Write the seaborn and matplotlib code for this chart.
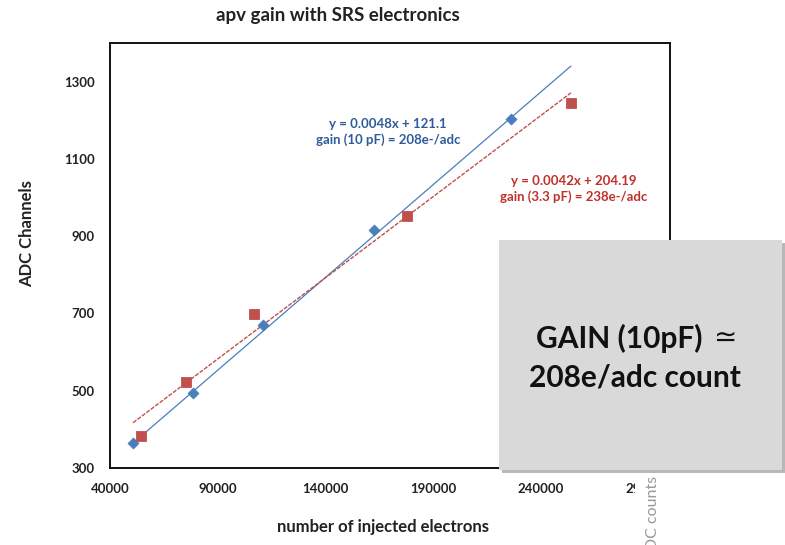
import numpy as np
import pandas as pd
import seaborn as sns
import matplotlib.pyplot as plt
from matplotlib.patches import Rectangle

x_10pf = [50700, 78500, 111000, 162600, 226200]
adc_10pf = [365, 494, 670, 916, 1203]
x_33pf = [54400, 75300, 106900, 177900, 254000]
adc_33pf = [383, 523, 698, 952, 1245]

# trendlines as written on the chart
fit_10pf = [0.0048, 121.1]
fit_33pf = [0.0042, 204.19]

x_ticks = [40000, 90000, 140000, 190000, 240000, 290000]
y_ticks = [300, 500, 700, 900, 1100, 1300]

blue = '#4a7ebb'
red = '#c0504d'

sns.set_style('white')
plt.rcParams['font.family'] = ['Lato', 'DejaVu Sans']

fig = plt.figure(figsize=(7.85, 5.45), dpi=100)
ax = fig.add_axes([110 / 785, 77 / 545, 560 / 785, 425 / 545])

df10 = pd.DataFrame({'x': x_10pf, 'y': adc_10pf})
df33 = pd.DataFrame({'x': x_33pf, 'y': adc_33pf})

# both trend lines span the full x range of the data
xs = np.array([min(x_10pf + x_33pf), max(x_10pf + x_33pf)])
sns.lineplot(x=xs, y=np.polyval(fit_10pf, xs), color=blue, lw=0.9, ax=ax)
sns.lineplot(x=xs, y=np.polyval(fit_33pf, xs), color=red, lw=1.0,
             linestyle=(0, (3, 1)), ax=ax)

sns.scatterplot(data=df10, x='x', y='y', marker='D', s=32, color=blue,
                edgecolor=blue, ax=ax, zorder=3)
sns.scatterplot(data=df33, x='x', y='y', marker='s', s=55, color=red,
                edgecolor=red, ax=ax, zorder=3)

ax.set_xlim(40000, 300000)
ax.set_ylim(300, 1400)
ax.set_xticks(x_ticks)
ax.set_yticks(y_ticks)
ax.tick_params(length=0, labelsize=9.5, pad=11)
for lab in ax.get_xticklabels() + ax.get_yticklabels():
    lab.set_fontweight('bold')
    lab.set_color('#222222')
ax.set_xlabel('')
ax.set_ylabel('')
for sp in ax.spines.values():
    sp.set_visible(True)
    sp.set_color('#111111')
    sp.set_linewidth(1.4)

ax.text(169000, 1170, 'y = 0.0048x + 121.1\ngain (10 pF) = 208e-/adc',
        color='#2e5c9a', fontsize=9.5, fontweight='bold', ha='center',
        va='center', linespacing=1.3)
ax.text(255400, 1022, 'y = 0.0042x + 204.19\ngain (3.3 pF) = 238e-/adc',
        color='#c0312b', fontsize=9.5, fontweight='bold', ha='center',
        va='center', linespacing=1.3)

fig.text(338 / 785, 1 - 15 / 545, 'apv gain with SRS electronics',
         fontsize=13.5, fontweight='bold', ha='center', va='center', color='#222222')
fig.text(383 / 785, 1 - 527 / 545, 'number of injected electrons',
         fontsize=12, fontweight='bold', ha='center', va='center', color='#222222')
fig.text(27 / 785, 1 - 234 / 545, 'ADC Channels', rotation=90,
         fontsize=12, fontweight='bold', ha='center', va='center', color='#222222')

# white strip hiding the cut-off tail of the last tick label
fig.add_artist(Rectangle((635 / 785, 0), 150 / 785, 72 / 545,
                         transform=fig.transFigure, facecolor='white',
                         edgecolor='none', zorder=4))
# cut-off label of the chart behind
fig.text(653 / 785, 1 - 476 / 545, 'ADC counts', rotation=90,
         fontsize=11.5, ha='center', va='top', color='#999999', zorder=4.5)

# grey callout box with shadow
fig.add_artist(Rectangle((502 / 785, 1 - 473 / 545), 283 / 785, 230 / 545,
                         transform=fig.transFigure, facecolor='#8a8a8a',
                         edgecolor='none', alpha=0.6, zorder=5))
fig.add_artist(Rectangle((499 / 785, 1 - 470 / 545), 283 / 785, 230 / 545,
                         transform=fig.transFigure, facecolor='#d9d9d9',
                         edgecolor='none', zorder=6))
fig.text(703 / 785, 1 - 338 / 545, 'GAIN (10pF)', fontsize=21.5,
         fontweight='bold', ha='right', va='center', color='#111111', zorder=7)
fig.text(726 / 785, 1 - 338 / 545, '\u2243', family=['DejaVu Sans'],
         fontsize=20, ha='center', va='center', color='#111111', zorder=7)
fig.text(635 / 785, 1 - 378 / 545, '208e/adc count', fontsize=21.5,
         fontweight='bold', ha='center', va='center', color='#111111', zorder=7)

fig.savefig('out.png', dpi=100)
